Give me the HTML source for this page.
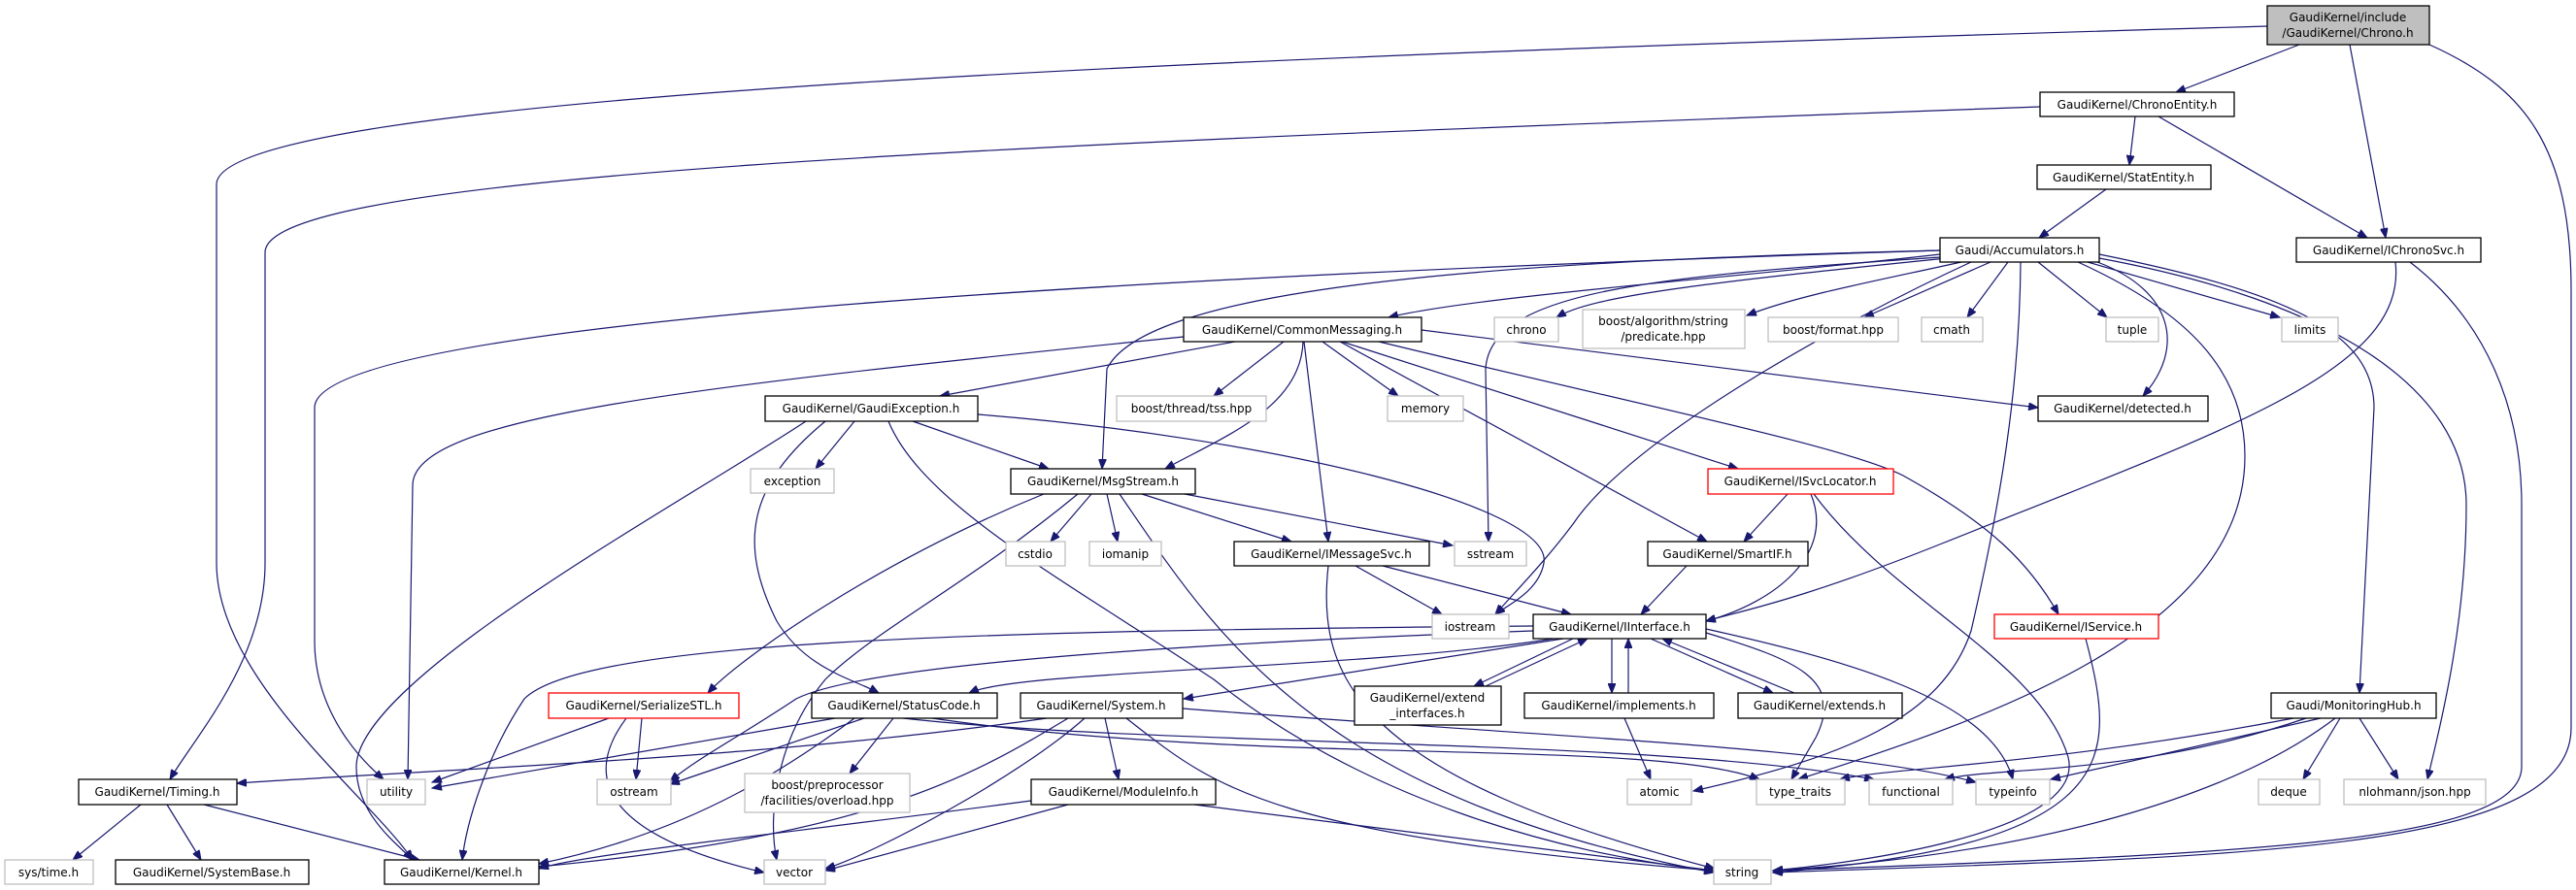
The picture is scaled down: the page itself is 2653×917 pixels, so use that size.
<!DOCTYPE html>
<html><head><meta charset="utf-8"><style>
html,body{margin:0;padding:0;background:#fff;}
svg{display:block;}
text{font-family:"DejaVu Sans","Liberation Sans",sans-serif;font-size:12px;fill:#000;text-anchor:middle;}
.n{fill:#fff;stroke:#000;stroke-width:1.3;}
.g{fill:#fff;stroke:#bfbfbf;stroke-width:1.3;}
.r{fill:#fff;stroke:#ff0000;stroke-width:1.3;}
.e path{fill:none;stroke:#191970;stroke-width:1.2;marker-end:url(#a);}
</style></head><body>
<svg width="2653" height="917" viewBox="0 0 2653 917" xmlns="http://www.w3.org/2000/svg">
<defs><marker id="a" markerUnits="userSpaceOnUse" markerWidth="11" markerHeight="8" refX="10" refY="4" orient="auto"><path d="M0,0 L10,4 L0,8 z" fill="#191970" stroke="#191970"/></marker></defs>
<g class="e">
<path d="M2368,46 L2241,95"/>
<path d="M2420,46 L2457,245"/>
<path d="M2502,46 C2600,90 2648,150 2648,300 L2648,750 C2648,880 2300,882 1826,899"/>
<path d="M2482,270 C2560,330 2597,420 2597,520 L2597,790 C2597,870 2300,880 1826,897"/>
<path d="M2467,270 C2480,380 2300,440 2000,560 C1850,620 1790,630 1757,640"/>
<path d="M2335,27 C1200,60 223,100 223,190 L223,580 C223,700 380,820 425,886"/>
<path d="M2199,120 L2193,170"/>
<path d="M2223,120 L2438,245"/>
<path d="M2101,110 C1000,150 273,180 273,260 L273,580 C273,680 200,760 175,803"/>
<path d="M2169,195 L2100,245"/>
<path d="M1998,262 C1800,285 1520,305 1430,327"/>
<path d="M2005,266 C1750,292 1640,305 1603,327"/>
<path d="M2020,270 C1920,292 1850,305 1799,325"/>
<path d="M2050,270 L1920,327"/>
<path d="M2068,270 L2026,327"/>
<path d="M2099,270 L2170,327"/>
<path d="M2150,270 L2348,327"/>
<path d="M2160,270 C2240,300 2250,360 2207,408"/>
<path d="M2162,262 C2350,300 2445,340 2445,420 L2430,714"/>
<path d="M2162,266 C2400,310 2540,400 2540,520 C2540,650 2510,760 2500,803"/>
<path d="M2140,270 C2250,320 2312,380 2312,470 C2312,650 2050,740 1852,803"/>
<path d="M2081,270 C2080,400 2060,520 2030,650 C2000,740 1900,780 1744,815"/>
<path d="M1998,258 C1500,270 1180,300 1140,380 L1135,483"/>
<path d="M1998,265 C1700,285 1535,300 1530,380 L1533,558"/>
<path d="M2030,270 C1900,330 1680,450 1620,540 C1590,580 1560,610 1540,633"/>
<path d="M1998,258 C1000,290 324,340 324,420 L324,660 C324,740 380,790 395,803"/>
<path d="M1219,347 C700,400 425,430 425,500 L420,803"/>
<path d="M1272,352 L968,408"/>
<path d="M1322,352 L1250,408"/>
<path d="M1362,352 L1440,408"/>
<path d="M1464,340 L2099,420"/>
<path d="M1342,352 C1340,420 1260,450 1200,483"/>
<path d="M1343,352 L1368,558"/>
<path d="M1380,352 L1758,558"/>
<path d="M1382,352 L1790,483"/>
<path d="M1420,352 C1700,420 1900,460 1960,490 C2050,540 2090,580 2120,633"/>
<path d="M880,434 L840,483"/>
<path d="M940,434 L1080,483"/>
<path d="M850,434 C770,500 760,560 800,640 C830,690 880,700 905,714"/>
<path d="M915,434 C950,520 1100,600 1250,700 C1400,820 1600,880 1765,897"/>
<path d="M1007,427 C1300,450 1600,520 1590,580 C1585,610 1550,625 1540,633"/>
<path d="M830,434 C700,520 367,700 367,790 C367,840 410,870 425,886"/>
<path d="M1124,509 L1082,558"/>
<path d="M1140,509 L1151,558"/>
<path d="M1176,509 L1330,558"/>
<path d="M1220,509 L1496,562"/>
<path d="M1075,509 C900,580 760,680 729,714"/>
<path d="M1153,509 C1250,650 1350,820 1765,899"/>
<path d="M1110,509 C1000,600 900,650 850,700 C800,760 790,840 800,886"/>
<path d="M1396,583 L1485,633"/>
<path d="M1424,583 L1618,633"/>
<path d="M1368,583 C1355,700 1400,800 1766,895"/>
<path d="M1841,509 L1796,558"/>
<path d="M1865,509 C1890,570 1830,620 1757,640"/>
<path d="M1868,509 C1950,620 2100,680 2130,780 C2150,860 1900,890 1826,897"/>
<path d="M1737,583 L1690,633"/>
<path d="M2148,658 C2180,780 2190,870 1826,899"/>
<path d="M1600,658 C1400,690 1050,690 998,714"/>
<path d="M1610,658 L1219,720"/>
<path d="M1620,658 L1518,707"/>
<path d="M1530,707 L1635,658"/>
<path d="M1660,658 L1660,714"/>
<path d="M1677,714 L1677,658"/>
<path d="M1700,658 L1826,714"/>
<path d="M1848,714 L1712,658"/>
<path d="M1579,650 C1300,660 900,680 820,720 C760,760 720,780 690,805"/>
<path d="M1579,645 C1000,650 600,660 540,720 C500,780 480,850 476,886"/>
<path d="M1757,652 C1850,680 1900,700 1870,760 L1845,803"/>
<path d="M1757,648 C1900,680 2050,720 2073,803"/>
<path d="M627,740 L445,806"/>
<path d="M661,740 L655,803"/>
<path d="M645,740 C600,800 620,860 787,899"/>
<path d="M860,740 L445,812"/>
<path d="M890,740 L690,808"/>
<path d="M880,740 C800,800 700,860 555,890"/>
<path d="M920,740 L875,797"/>
<path d="M930,740 C1200,770 1700,760 1930,803"/>
<path d="M960,740 C1300,790 1700,760 1812,803"/>
<path d="M1078,740 C800,780 500,790 244,807"/>
<path d="M1138,740 L1152,803"/>
<path d="M1100,740 C1000,800 900,860 555,893"/>
<path d="M1117,740 C1050,800 900,880 850,895"/>
<path d="M1160,740 C1250,810 1300,860 1765,897"/>
<path d="M1218,730 C1600,760 1900,770 2035,806"/>
<path d="M1062,825 C800,860 600,880 555,895"/>
<path d="M1100,829 L850,897"/>
<path d="M1230,829 L1765,897"/>
<path d="M145,829 L75,886"/>
<path d="M172,829 L207,886"/>
<path d="M210,829 L432,886"/>
<path d="M1673,740 L1700,803"/>
<path d="M2410,740 L2372,803"/>
<path d="M2430,740 L2470,803"/>
<path d="M2405,740 C2300,820 2100,880 1826,897"/>
<path d="M2362,740 C2100,790 1950,790 1895,803"/>
<path d="M2375,740 C2200,800 2050,790 2003,803"/>
<path d="M2390,740 L2112,803"/>
</g>
<g>
<rect x="2335" y="6" width="167" height="40" fill="#bfbfbf" stroke="#000" stroke-width="1.3"/>
<text x="2418" y="22">GaudiKernel/include</text><text x="2418" y="38">/GaudiKernel/Chrono.h</text>
<rect class="n" x="2101" y="95" width="200" height="25"/><text x="2201" y="112">GaudiKernel/ChronoEntity.h</text>
<rect class="n" x="2098" y="170" width="179" height="25"/><text x="2187" y="187">GaudiKernel/StatEntity.h</text>
<rect class="n" x="1998" y="245" width="164" height="25"/><text x="2080" y="262">Gaudi/Accumulators.h</text>
<rect class="n" x="2365" y="245" width="190" height="25"/><text x="2460" y="262">GaudiKernel/IChronoSvc.h</text>
<rect class="n" x="1219" y="327" width="245" height="25"/><text x="1341" y="344">GaudiKernel/CommonMessaging.h</text>
<rect class="g" x="1539" y="327" width="66" height="25"/><text x="1572" y="344">chrono</text>
<rect class="g" x="1630" y="319" width="167" height="40"/><text x="1713" y="335">boost/algorithm/string</text><text x="1713" y="351">/predicate.hpp</text>
<rect class="g" x="1821" y="327" width="134" height="25"/><text x="1888" y="344">boost/format.hpp</text>
<rect class="g" x="1979" y="327" width="63" height="25"/><text x="2010" y="344">cmath</text>
<rect class="g" x="2169" y="327" width="54" height="25"/><text x="2196" y="344">tuple</text>
<rect class="g" x="2350" y="327" width="58" height="25"/><text x="2379" y="344">limits</text>
<rect class="n" x="788" y="408" width="219" height="26"/><text x="897" y="425">GaudiKernel/GaudiException.h</text>
<rect class="g" x="1150" y="408" width="154" height="26"/><text x="1227" y="425">boost/thread/tss.hpp</text>
<rect class="g" x="1429" y="408" width="78" height="26"/><text x="1468" y="425">memory</text>
<rect class="n" x="2099" y="408" width="175" height="26"/><text x="2186" y="425">GaudiKernel/detected.h</text>
<rect class="g" x="773" y="483" width="86" height="25"/><text x="816" y="500">exception</text>
<rect class="n" x="1041" y="483" width="190" height="26"/><text x="1136" y="500">GaudiKernel/MsgStream.h</text>
<rect class="r" x="1759" y="483" width="191" height="26"/><text x="1854" y="500">GaudiKernel/ISvcLocator.h</text>
<rect class="g" x="1036" y="558" width="61" height="25"/><text x="1066" y="575">cstdio</text>
<rect class="g" x="1122" y="558" width="74" height="25"/><text x="1159" y="575">iomanip</text>
<rect class="n" x="1271" y="558" width="201" height="25"/><text x="1371" y="575">GaudiKernel/IMessageSvc.h</text>
<rect class="g" x="1498" y="558" width="74" height="25"/><text x="1535" y="575">sstream</text>
<rect class="n" x="1697" y="558" width="165" height="25"/><text x="1779" y="575">GaudiKernel/SmartIF.h</text>
<rect class="g" x="1475" y="633" width="79" height="25"/><text x="1514" y="650">iostream</text>
<rect class="n" x="1579" y="633" width="178" height="25"/><text x="1668" y="650">GaudiKernel/IInterface.h</text>
<rect class="r" x="2054" y="633" width="169" height="25"/><text x="2138" y="650">GaudiKernel/IService.h</text>
<rect class="r" x="565" y="714" width="196" height="26"/><text x="663" y="731">GaudiKernel/SerializeSTL.h</text>
<rect class="n" x="836" y="714" width="191" height="26"/><text x="931" y="731">GaudiKernel/StatusCode.h</text>
<rect class="n" x="1051" y="714" width="167" height="26"/><text x="1134" y="731">GaudiKernel/System.h</text>
<rect class="n" x="1395" y="707" width="151" height="40"/><text x="1470" y="723">GaudiKernel/extend</text><text x="1470" y="739">_interfaces.h</text>
<rect class="n" x="1570" y="714" width="195" height="26"/><text x="1667" y="731">GaudiKernel/implements.h</text>
<rect class="n" x="1790" y="714" width="169" height="26"/><text x="1874" y="731">GaudiKernel/extends.h</text>
<rect class="n" x="2339" y="714" width="170" height="26"/><text x="2424" y="731">Gaudi/MonitoringHub.h</text>
<rect class="n" x="81" y="803" width="163" height="26"/><text x="162" y="820">GaudiKernel/Timing.h</text>
<rect class="g" x="378" y="803" width="60" height="26"/><text x="408" y="820">utility</text>
<rect class="g" x="615" y="803" width="76" height="26"/><text x="653" y="820">ostream</text>
<rect class="g" x="767" y="797" width="170" height="40"/><text x="852" y="813">boost/preprocessor</text><text x="852" y="829">/facilities/overload.hpp</text>
<rect class="n" x="1062" y="803" width="190" height="26"/><text x="1157" y="820">GaudiKernel/ModuleInfo.h</text>
<rect class="g" x="1676" y="803" width="66" height="26"/><text x="1709" y="820">atomic</text>
<rect class="g" x="1809" y="803" width="91" height="26"/><text x="1854" y="820">type_traits</text>
<rect class="g" x="1925" y="803" width="86" height="26"/><text x="1968" y="820">functional</text>
<rect class="g" x="2035" y="803" width="76" height="26"/><text x="2073" y="820">typeinfo</text>
<rect class="g" x="2326" y="803" width="63" height="26"/><text x="2357" y="820">deque</text>
<rect class="g" x="2414" y="803" width="146" height="26"/><text x="2487" y="820">nlohmann/json.hpp</text>
<rect class="g" x="5" y="886" width="91" height="25"/><text x="50" y="903">sys/time.h</text>
<rect class="n" x="119" y="886" width="199" height="25"/><text x="218" y="903">GaudiKernel/SystemBase.h</text>
<rect class="n" x="396" y="886" width="159" height="25"/><text x="475" y="903">GaudiKernel/Kernel.h</text>
<rect class="g" x="787" y="886" width="63" height="25"/><text x="818" y="903">vector</text>
<rect class="g" x="1765" y="886" width="59" height="25"/><text x="1794" y="903">string</text>
</g>
</svg>
</body></html>
